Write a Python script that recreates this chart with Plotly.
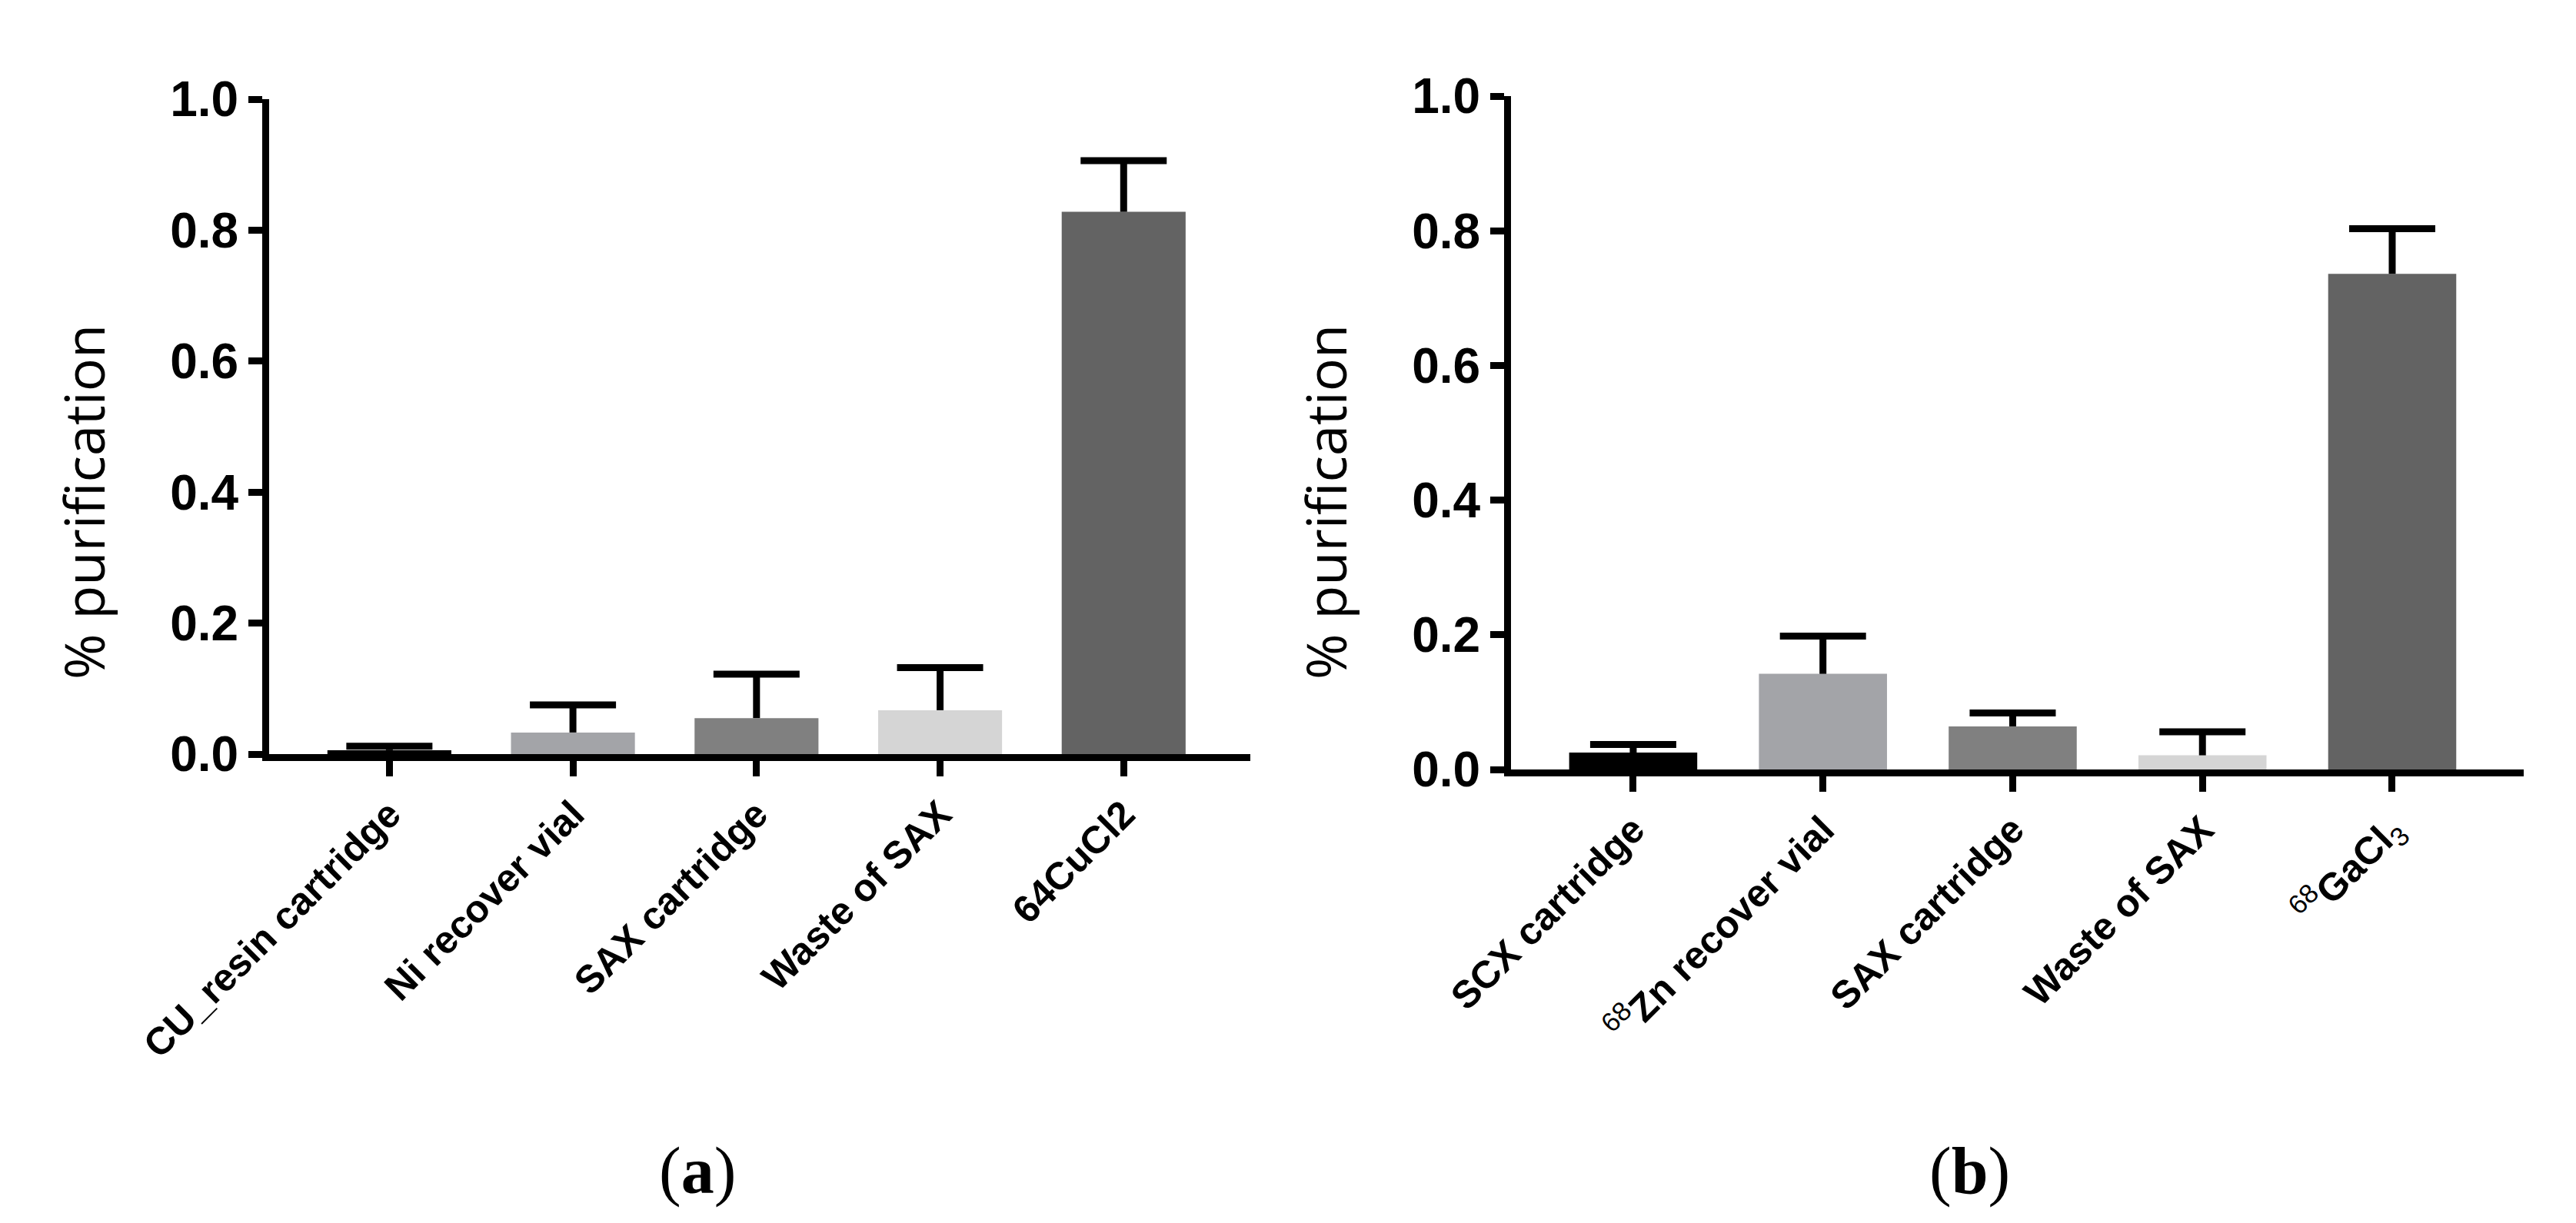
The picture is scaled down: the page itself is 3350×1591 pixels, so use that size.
import plotly.graph_objects as go

W, H = 3350, 1591

# panel (a) - 64Cu purification
labels_a = ['CU_resin cartridge', 'Ni recover vial', 'SAX cartridge', 'Waste of SAX', '64CuCl2']
means_a = [0.006, 0.033, 0.055, 0.067, 0.828]
err_a = [0.006, 0.042, 0.067, 0.065, 0.078]

# panel (b) - 68Ga purification
labels_b = ['SCX cartridge', '<sup><span style="font-weight:normal">68</span></sup>Zn recover vial',
            'SAX cartridge', 'Waste of SAX',
            '<sup><span style="font-weight:normal">68</span></sup>GaCl<sub><span style="font-weight:normal">3</span></sub>']
means_b = [0.025, 0.142, 0.064, 0.021, 0.736]
err_b = [0.012, 0.056, 0.020, 0.035, 0.067]

bar_colors = ['#000000', '#a3a4a8', '#808080', '#d5d5d5', '#636363']
y_ticks = [0.0, 0.2, 0.4, 0.6, 0.8, 1.0]

TICK_FONT = 'Liberation Sans, Arial, sans-serif'


def px_x(p):
    return p / W


def px_y(p):
    return 1 - p / H


def add_panel(fig, labels, means, errs, xa, ya):
    xs = list(range(len(labels)))
    # bars with a stem-only error bar (upper side only, no cap)
    fig.add_trace(go.Bar(
        x=xs, y=means, xaxis=xa, yaxis=ya,
        marker=dict(color=bar_colors, line=dict(width=0)),
        width=0.675,
        error_y=dict(type='data', array=errs, arrayminus=[0] * len(errs), symmetric=False,
                     color='black', thickness=9, width=0),
        showlegend=False, hoverinfo='skip',
    ))
    # caps on the top end only
    tops = [m + e for m, e in zip(means, errs)]
    fig.add_trace(go.Scatter(
        x=xs, y=tops, xaxis=xa, yaxis=ya, mode='markers',
        marker=dict(symbol='line-ew', size=80, color='black', line=dict(width=9, color='black')),
        showlegend=False, hoverinfo='skip', cliponaxis=False,
    ))


fig = go.Figure()
add_panel(fig, labels_a, means_a, err_a, 'x', 'y')
add_panel(fig, labels_b, means_b, err_b, 'x2', 'y2')

xcommon = dict(showline=True, linewidth=9, linecolor='black', ticks='outside', ticklen=20,
               tickwidth=9, tickcolor='black', tickangle=-45, showgrid=False, zeroline=False,
               automargin=False,
               tickfont=dict(family=TICK_FONT, size=50, color='black', weight='bold'))
ycommon = dict(showline=True, linewidth=9, linecolor='black', ticks='outside', ticklen=18,
               tickwidth=9, tickcolor='black', showgrid=False, zeroline=False, range=[0, 1],
               tickvals=y_ticks, tickformat='.1f', automargin=False,
               tickfont=dict(family=TICK_FONT, size=64, color='black', weight='bold'))

fig.update_layout(
    template='none',
    width=W, height=H, margin=dict(l=0, r=0, t=0, b=0, pad=0),
    paper_bgcolor='white', plot_bgcolor='white',
    xaxis=dict(xcommon, domain=[px_x(342), px_x(1618)], anchor='y', range=[-0.655, 4.69],
               tickvals=list(range(5)), ticktext=labels_a),
    yaxis=dict(ycommon, domain=[px_y(973), px_y(121)], anchor='x'),
    xaxis2=dict(xcommon, domain=[px_x(1957), px_x(3274)], anchor='y2', range=[-0.644, 4.693],
                tickvals=list(range(5)), ticktext=labels_b),
    yaxis2=dict(ycommon, domain=[px_y(993), px_y(117)], anchor='x2'),
)

# y titles sit a bit below the axis middle in the original, so use annotations
for cx in [100, 1715]:
    fig.add_annotation(text='% purification', xref='paper', yref='paper', x=px_x(cx), y=px_y(645),
                       xanchor='center', yanchor='middle', textangle=-90, showarrow=False,
                       font=dict(family='Open Sans, Lato, sans-serif', size=72, color='black'))

# panel captions
for cx, letter in [(899, 'a'), (2553, 'b')]:
    fig.add_annotation(text=f'(<b>{letter}</b>)', xref='paper', yref='paper', x=px_x(cx), y=px_y(1515),
                       xanchor='center', yanchor='middle', showarrow=False,
                       font=dict(family='Liberation Serif, Times New Roman, serif', size=86, color='black'))

fig.write_html("out.html")
